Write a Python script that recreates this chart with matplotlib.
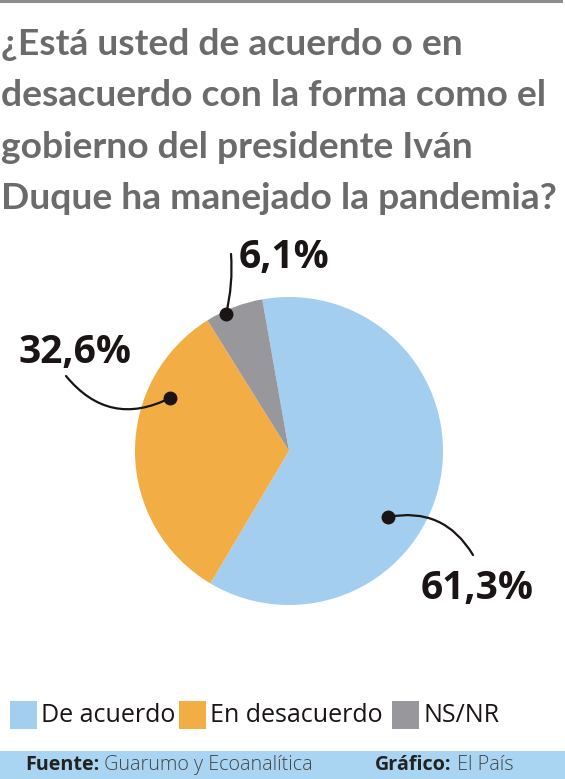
import matplotlib
matplotlib.use("Agg")
import matplotlib.pyplot as plt
from matplotlib.patches import Rectangle

# datos
categorias = ["De acuerdo", "En desacuerdo", "NS/NR"]
valores = [61.3, 32.6, 6.1]
etiquetas = ["61,3%", "32,6%", "6,1%"]
colores = ["#a3ceef", "#f2ad45", "#98979c"]

titulo = ("¿Está usted de acuerdo o en\ndesacuerdo con la forma como el\n"
          "gobierno del presidente Iván\nDuque ha manejado la pandemia?")

W, H = 565, 779
plt.rcParams['font.family'] = ['Open Sans', 'DejaVu Sans']

fig = plt.figure(figsize=(W / 100, H / 100), dpi=100)
ax = fig.add_axes([0, 0, 1, 1])


def Y(y):
    return H - y


# barra gris superior
ax.add_patch(Rectangle((0, Y(3)), 563, 3, color="#8c8c8c", lw=0))

# titulo
ax.text(1, Y(28), titulo, fontsize=26.8, fontweight='bold', color="#6b6b6b",
        va='top', ha='left', linespacing=1.68, family=['Lato', 'DejaVu Sans'])

# pastel
ax.pie(valores, colors=colores, startangle=100, counterclock=False,
       center=(289, Y(451)), radius=154, wedgeprops=dict(linewidth=0))

# etiquetas con lineas
anot = [
    # (punto, texto, extremo linea, rad)
    ((388, 517), (477, 588), (473, 555), 0.35),
    ((170, 398), (75, 352), (66, 376), 0.4),
    ((226, 314), (284, 257), (231, 254), -0.08),
]
for i, ((px, py), (tx, ty), (lx, ly), rad) in enumerate(anot):
    ax.annotate('', xy=(px, Y(py)), xytext=(lx, Y(ly)),
                arrowprops=dict(arrowstyle='-', color="#1a1414", lw=1.6,
                                connectionstyle="arc3,rad=%s" % rad,
                                shrinkA=0, shrinkB=0))
    ax.plot(px, Y(py), 'o', color="#1a1414", ms=9)
    ax.text(tx, Y(ty), etiquetas[i], fontsize=28, fontweight='bold',
            color="#1a1414", ha='center', va='center')

# leyenda
cx = [10, 179, 392]
for i, cat in enumerate(categorias):
    ax.add_patch(Rectangle((cx[i], Y(729)), 27, 28, color=colores[i], lw=0))
    ax.text(cx[i] + 31, Y(716), cat, fontsize=18, color="#1a1414",
            ha='left', va='center')

# pie de pagina
ax.add_patch(Rectangle((0, 0), W, H - 751, color="#a9d5f2", lw=0))
t = ax.text(25, Y(765), "Fuente:", fontsize=14.2, fontweight='bold',
            color="#222222", va='center')
ax.annotate(" Guarumo y Ecoanalítica", xycoords=t, xy=(1, 0.5), va='center',
            fontsize=14.2, fontweight='light', color="#444444")
t2 = ax.text(375, Y(765), "Gráfico:", fontsize=14.2, fontweight='bold',
             color="#222222", va='center')
ax.annotate(" El País", xycoords=t2, xy=(1, 0.5), va='center',
            fontsize=14.2, fontweight='light', color="#444444")

ax.set_xlim(0, W)
ax.set_ylim(0, H)
ax.set_aspect('auto')
ax.axis('off')

fig.savefig("out.png", dpi=100, facecolor='white')
